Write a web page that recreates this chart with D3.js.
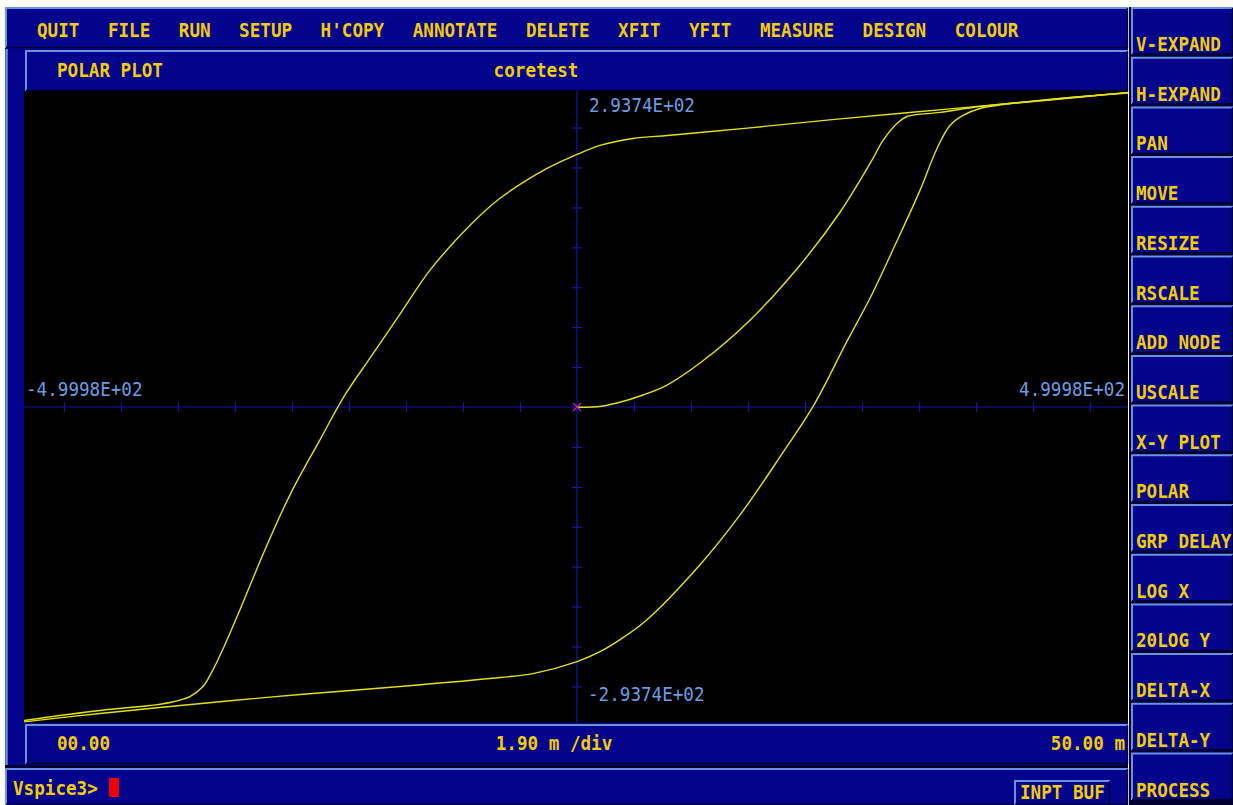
<!DOCTYPE html>
<html><head><meta charset="utf-8">
<script src="https://cdn.jsdelivr.net/npm/d3@7"></script>
<style>body{margin:0;background:#fff;overflow:hidden} svg{display:block}</style>
</head><body>
<svg id="c" width="1233" height="805"></svg>
<script>
// ---------- data ----------
const menuItems = ["QUIT","FILE","RUN","SETUP","H'COPY","ANNOTATE","DELETE","XFIT","YFIT","MEASURE","DESIGN","COLOUR"];
const sideButtons = ["V-EXPAND","H-EXPAND","PAN","MOVE","RESIZE","RSCALE","ADD NODE","USCALE","X-Y PLOT","POLAR","GRP DELAY","LOG X","20LOG Y","DELTA-X","DELTA-Y","PROCESS"];
const plotTitle = "POLAR PLOT", plotName = "coretest";
const xDomain = [-499.98, 499.98];
const yDomain = [-293.74, 293.74];
const xLimitLabels = ["-4.9998E+02", "4.9998E+02"];
const yLimitLabels = ["-2.9374E+02", "2.9374E+02"];
const xTickValues = [-463.9,-412.3,-360.8,-309.3,-257.7,-206.2,-154.6,-103.1,-51.5,51.5,103.1,154.6,206.2,257.7,309.3,360.8,412.3,463.9];
const yTickValues = [-260.6,-223.4,-186.1,-148.9,-111.7,-74.5,-37.2,37.2,74.5,111.7,148.9,186.1,223.4,260.6];
const bottomLabels = ["00.00", "1.90 m /div", "50.00 m"];
const prompt = "Vspice3>", bufLabel = "INPT BUF";

// initial magnetisation curve (H, B)
const initialCurve = [[0,0],[18.1,0.2],[36.2,3.7],[59.7,11.2],[81.4,20.5],[111.2,41.0],[156.4,81.0],[201.6,132.2],[237.8,181.6],[255.9,211.3],[267.6,231.8],[276.7,248.6],[290.2,265.3],[298.4,270.9],[328.2,274.7],[364.4,280.2],[427.6,286.8],[499.98,293.3]];
// descending branch
const upperBranch = [[499.98,293.6],[427.6,286.3],[337.2,278.0],[237.8,268.7],[156.4,260.3],[111.2,256.0],[81.4,253.2],[50.6,250.4],[20.8,243.9],[0,235.5],[-27.1,222.5],[-69.6,194.6],[-96.7,169.4],[-132.9,127.6],[-160.0,86.6],[-187.2,45.6],[-209.8,11.2],[-232.4,-30.7],[-259.5,-81.9],[-282.1,-133.1],[-304.7,-189.0],[-318.3,-221.6],[-330.0,-246.8],[-338.2,-260.7],[-350.0,-270.0],[-368.1,-275.6],[-386.2,-278.4],[-431.3,-283.0],[-499.98,-292.3]];
// ascending branch
const lowerBranch = [[-499.98,-293.6],[-431.3,-285.8],[-311.0,-273.7],[-250.4,-268.1],[-160.0,-260.7],[-69.6,-252.3],[-39.8,-248.6],[0,-237.4],[20.8,-228.1],[38.9,-216.9],[63.3,-198.3],[111.2,-147.1],[147.4,-100.6],[183.5,-46.6],[215.2,3.7],[242.3,57.7],[264.9,101.4],[287.5,150.8],[310.1,202.0],[325.5,241.1],[337.2,262.5],[349.0,271.9],[364.4,278.4],[427.6,286.8],[499.98,293.0]];

// ---------- style ----------
const BLUE = "#03038c", LIGHT = "#6a92e2", DARK = "#000030", YEL = "#f2cc08", AXC = "#6c9ce6";
const CW = 10.6, FS = 17.6;

const svg = d3.select("#c");
svg.append("rect").attr("width",1233).attr("height",805).attr("fill","#fff");

function panel(x,y,w,h){
  svg.append("rect").attr("x",x).attr("y",y).attr("width",w).attr("height",h).attr("fill",BLUE);
  svg.append("path").attr("d",`M${x+1},${y+h} V${y+1} H${x+w}`).attr("stroke",LIGHT).attr("stroke-width",2).attr("fill","none");
  svg.append("path").attr("d",`M${x+1},${y+h-0.5} H${x+w-0.5} V${y+1}`).attr("stroke",DARK).attr("stroke-width",1.5).attr("fill","none");
}
function txt(s,x,y,opt={}){
  return svg.append("text").attr("transform",`translate(${x},${y}) scale(1,1.1)`)
    .attr("font-family","DejaVu Sans Mono").attr("font-size",opt.fs||FS)
    .attr("font-weight",opt.w||"bold").attr("fill",opt.c||YEL)
    .attr("text-anchor",opt.a||"start").text(s);
}

// background frame
svg.append("rect").attr("x",5).attr("y",7).attr("width",1123).attr("height",798).attr("fill",BLUE);
svg.append("line").attr("x1",6.5).attr("x2",6.5).attr("y1",49).attr("y2",766).attr("stroke",LIGHT).attr("stroke-width",2.5);
svg.append("line").attr("x1",5).attr("x2",1128).attr("y1",766.5).attr("y2",766.5).attr("stroke",DARK).attr("stroke-width",3);

// menu bar
panel(5,7,1123,41);
let mx = 37;
menuItems.forEach(m => { txt(m, mx, 37); mx += m.length*CW + 28.5; });

// title bar
panel(25,50,1103,41);
txt(plotTitle, 57, 77);
txt(plotName, 536, 77, {a:"middle"});

// bottom bar
panel(25,724,1103,40);
txt(bottomLabels[0], 57, 750);
txt(bottomLabels[1], 554, 750, {a:"middle"});
txt(bottomLabels[2], 1125, 750, {a:"end"});

// command bar
panel(5,768,1123,37);
txt(prompt, 13, 795);
svg.append("rect").attr("x",109).attr("y",778).attr("width",10).attr("height",19).attr("fill","#f00000");
panel(1014,780,96,25);
txt(bufLabel, 1020, 799);

// side buttons
svg.append("rect").attr("x",1129).attr("y",7).attr("width",104).attr("height",798).attr("fill",DARK);
sideButtons.forEach((b,i) => {
  const y0 = 7 + i*49.7;
  panel(1131, y0, 102, 47.5);
  txt(b, 1136, y0 + 44);
});

// ---------- plot ----------
const px0 = 24, px1 = 1128, py0 = 91, py1 = 723;
svg.append("rect").attr("x",px0).attr("y",py0).attr("width",px1-px0).attr("height",py1-py0).attr("fill","#000");
svg.append("clipPath").attr("id","clip").append("rect").attr("x",px0).attr("y",py0).attr("width",px1-px0).attr("height",py1-py0);

const x = d3.scaleLinear().domain(xDomain).range([24, 1130]);
const y = d3.scaleLinear().domain(yDomain).range([722, 92]);
const AX = "#1616a8";
const g = svg.append("g").attr("clip-path","url(#clip)");

const xAxis = d3.axisBottom(x).tickValues(xTickValues).tickSize(10).tickFormat("");
const yAxis = d3.axisLeft(y).tickValues(yTickValues).tickSize(10).tickFormat("");
const gx = g.append("g").attr("transform",`translate(0,${y(0)})`).call(xAxis);
gx.selectAll(".tick line").attr("y1",-5).attr("y2",5);
const gy = g.append("g").attr("transform",`translate(${x(0)},0)`).call(yAxis);
gy.selectAll(".tick line").attr("x1",-5).attr("x2",5);
[gx,gy].forEach(a=>{ a.selectAll("line,path").attr("stroke",AX).attr("stroke-width",1.2); a.select(".domain").attr("d", null); });
g.append("line").attr("x1",px0).attr("x2",px1).attr("y1",y(0)).attr("y2",y(0)).attr("stroke",AX).attr("stroke-width",1.2);
g.append("line").attr("x1",x(0)).attr("x2",x(0)).attr("y1",py0).attr("y2",py1).attr("stroke",AX).attr("stroke-width",1.2);

const line = d3.line().x(d=>x(d[0])).y(d=>y(d[1])).curve(d3.curveCatmullRom.alpha(0.5));
[initialCurve, upperBranch, lowerBranch].forEach(c => {
  g.append("path").attr("d", line(c)).attr("fill","none").attr("stroke","#e4e018").attr("stroke-width",1.4);
});

const ox = x(0), oy = y(0);
g.append("path").attr("d",`M${ox-4},${oy-4}L${ox+4},${oy+4}M${ox-4},${oy+4}L${ox+4},${oy-4}`).attr("stroke","#c020c0").attr("stroke-width",1.3);

txt(yLimitLabels[1], 589, 112, {c:AXC, w:"normal"});
txt(yLimitLabels[0], 588, 701, {c:AXC, w:"normal"});
txt(xLimitLabels[0], 26, 396, {c:AXC, w:"normal"});
txt(xLimitLabels[1], 1125, 396, {c:AXC, w:"normal", a:"end"});
</script>
</body></html>
